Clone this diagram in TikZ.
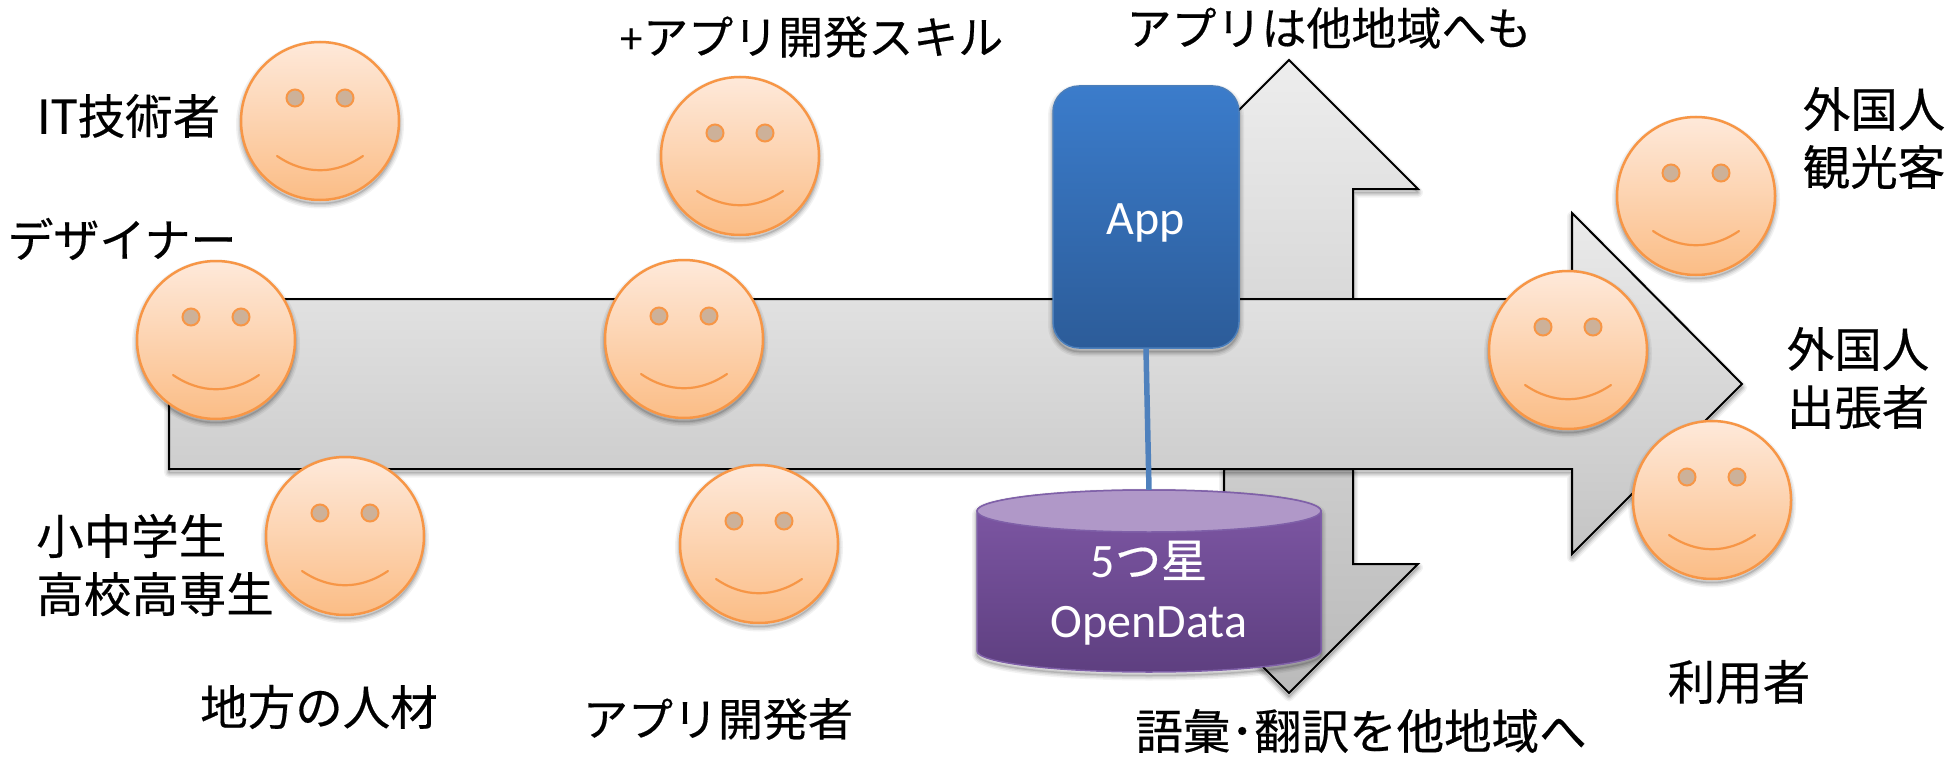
\documentclass[tikz,border=0pt]{standalone}
\usepackage{fontspec}
\setmainfont{Carlito}
\newfontfamily\cjk[FakeBold=0.4]{Noto Sans CJK JP}
\definecolor{faceline}{HTML}{F79646}
\definecolor{facetop}{HTML}{FEE9DA}
\definecolor{facebot}{HTML}{FBBD86}
\definecolor{eyefill}{HTML}{CDB199}
\definecolor{apptop}{HTML}{3B7CCB}
\definecolor{appbot}{HTML}{2C5C99}
\definecolor{appline}{HTML}{4A7EBB}
\definecolor{conn}{HTML}{4F81BD}
\definecolor{dbtop}{HTML}{7F58A6}
\definecolor{dbbot}{HTML}{5E3F80}
\definecolor{dbcap}{HTML}{B098C8}
\definecolor{dbline}{HTML}{7F60A8}
\tikzset{
  softshade/.style={draw=black,line width=2pt,line join=miter},
  label/.style={font=\fontsize{47.5}{58}\selectfont\cjk,text=black,align=center,inner sep=0pt},
  kanalabel/.style={font=\fontsize{45}{58}\selectfont\cjk,text=black,align=center,inner sep=0pt},
  whitelabel/.style={font=\fontsize{48}{60}\selectfont,text=white,align=center,inner sep=0pt},
  face/.style={circle,draw=faceline,line width=2.5pt,top color=facetop,bottom color=facebot,minimum size=158pt,inner sep=0pt},
  eye/.style={circle,draw=faceline,line width=2pt,fill=eyefill,minimum size=17pt,inner sep=0pt},
  smile/.style={draw=faceline,line width=2.2pt,line cap=round},
  appbox/.style={rectangle,rounded corners=26pt,draw=appline,line width=1.5pt,top color=apptop,bottom color=appbot,minimum width=186pt,minimum height=262pt,inner sep=0pt},
  connector/.style={draw=conn,line width=5.5pt}
}
% layered soft shadow under a closed path
\newcommand{\softshadow}[1]{%
  \foreach \w/\o in {10/.05,7/.07,4/.09,1.5/.12}{%
    \draw[black,opacity=\o,line width=\w pt,line join=round,shift={(0pt,-3.5pt)}] #1;}}
\newcommand{\smiley}[3]{%
  \softshadow{(#2,#3) circle (79pt)}
  \node[face] (#1) at (#2,#3) {};
  \node[eye] (#1eyeL) at ([xshift=-25pt,yshift=23pt]#1.center) {};
  \node[eye] (#1eyeR) at ([xshift=25pt,yshift=23pt]#1.center) {};
  \draw[smile] ([xshift=-43pt,yshift=-35pt]#1.center) .. controls ([xshift=-15pt,yshift=-54pt]#1.center) and ([xshift=15pt,yshift=-54pt]#1.center) .. ([xshift=43pt,yshift=-35pt]#1.center);
}
\begin{document}
\begin{tikzpicture}[x=1pt,y=-1pt]
\useasboundingbox (0,0) rectangle (1955,757);
% branch arrows
\def\uparrow{(1289,60) -- (1418,189) -- (1353,189) -- (1353,299) -- (1224,299) -- (1224,189) -- (1160,189) -- cycle}
\def\downarrow{(1224,469) -- (1353,469) -- (1353,564) -- (1418,564) -- (1289,693) -- (1160,564) -- (1224,564) -- cycle}
\def\mainarrow{(169,299) -- (1572,299) -- (1572,213) -- (1742,384) -- (1572,554) -- (1572,469) -- (169,469) -- cycle}
\softshadow{\uparrow}
\draw[softshade,top color=black!7,bottom color=black!15] \uparrow;
\softshadow{\downarrow}
\draw[softshade,top color=black!20,bottom color=black!27] \downarrow;
\softshadow{\mainarrow}
\draw[softshade,top color=black!8,bottom color=black!23] \mainarrow;
% database
\softshadow{(977,511) -- (977,651) arc[start angle=180,end angle=360,x radius=172pt,y radius=21pt] -- (1321,511) arc[start angle=0,end angle=180,x radius=172pt,y radius=21pt] -- cycle}
\draw[draw=dbline,line width=1.5pt,top color=dbtop,bottom color=dbbot] (977,511) -- (977,651) arc[start angle=180,end angle=360,x radius=172pt,y radius=21pt] -- (1321,511) arc[start angle=0,end angle=180,x radius=172pt,y radius=21pt] -- cycle;
\draw[draw=dbline,line width=1.5pt,fill=dbcap] (1149,511) ellipse[x radius=172pt,y radius=21pt];
\node[minimum width=344pt,minimum height=182pt,inner sep=0pt] (db) at (1149,581) {};
\node[whitelabel] (dblabel) at (1149,593) {5{\cjk\fontsize{46}{60}\selectfont つ星}\\OpenData};
% app box
\softshadow{(1053,86) [rounded corners=26pt] rectangle (1239,348)}
\node[appbox] (app) at (1146,217) {};
\node[whitelabel] (applabel) at (1146,223) {App};
\draw[connector] (app.south) -- (db.north);
% faces
\smiley{f1}{320}{121}
\smiley{f2}{216}{340}
\smiley{f3}{345}{536}
\smiley{f4}{740}{156}
\smiley{f5}{684}{339}
\smiley{f6}{759}{544}
\smiley{f7}{1696}{196}
\smiley{f8}{1568}{350}
\smiley{f9}{1712}{500}
% labels
\node[label] (t1) at (129,116) {{\fontspec{Carlito}\fontsize{54}{58}\selectfont IT}技術者};
\node[kanalabel,font=\fontsize{46}{58}\selectfont\cjk] (t2) at (122,239) {デザイナー};
\node[label,align=left] (t3) at (155,565) {小中学生\\高校高専生};
\node[label] (t4) at (319,707) {地方の人材};
\node[kanalabel] (t5) at (812,37) {{\fontspec{Carlito}+}アプリ開発スキル};
\node[kanalabel] (t6) at (718,719) {アプリ開発者};
\node[kanalabel] (t7) at (1329,28) {アプリは他地域へも};
\node[label] (t8) at (1361,731) {語彙･翻訳を他地域へ};
\node[label] (t9) at (1874,138) {外国人\\観光客};
\node[label] (t10) at (1858,378) {外国人\\出張者};
\node[label] (t11) at (1739,682) {利用者};
\end{tikzpicture}
\end{document}
